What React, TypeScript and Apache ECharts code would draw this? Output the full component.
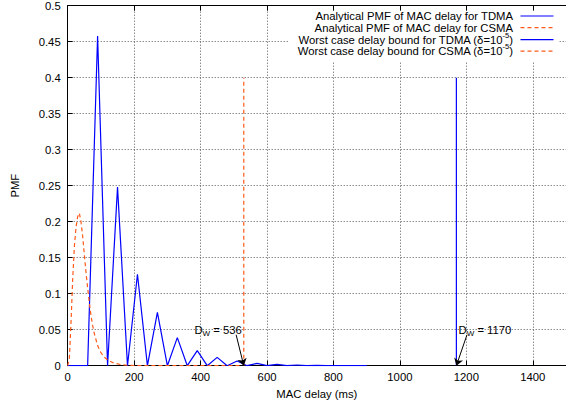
import React, { useEffect, useRef } from "react";
import * as echarts from "echarts";

// ---- data ----
const tdmaX = [0, 30, 60, 90, 120, 150, 180, 210, 240, 270, 300, 330, 360, 390, 420, 450, 480, 510, 540, 570, 600, 630, 660, 690, 720, 750, 780, 810, 840, 870, 900];
const tdmaY = [0, 0, 0, 0.458, 0, 0.248, 0, 0.127, 0, 0.074, 0, 0.039, 0, 0.021, 0, 0.0116, 0, 0.0065, 0, 0.0033, 0, 0.0018, 0, 0.001, 0, 0.0005, 0, 0.0003, 0, 0.0001, 0];

const csmaX = [0, 5, 10, 15, 20, 25, 30, 35, 40, 45, 50, 55, 60, 65, 70, 75, 80, 90, 100, 110, 120, 140, 160, 180, 200, 250, 300, 400, 520];
const csmaY = [0, 0.01, 0.06, 0.12, 0.165, 0.192, 0.207, 0.212, 0.2, 0.18, 0.155, 0.13, 0.108, 0.088, 0.07, 0.056, 0.045, 0.028, 0.018, 0.012, 0.008, 0.0035, 0.0015, 0.0006, 0.0002, 0, 0, 0, 0];

const tdmaBound = 1170;
const csmaBound = 530;
const boundHeight = 0.4;

const annotations = [
  { label: "536", textAt: [380, 0.05], arrowFrom: [507, 0.043], arrowTo: [530, 0] },
  { label: "1170", textAt: [1175, 0.05], arrowFrom: [1202, 0.043], arrowTo: [1170, 0] },
];

const legendNames = [
  "Analytical PMF of MAC delay for TDMA",
  "Analytical PMF of MAC delay for CSMA",
  "Worst case delay bound for TDMA (δ=10",
  "Worst case delay bound for CSMA (δ=10",
];

const xMin = 0;
const xMax = 1500;
const xInterval = 200;
const yMin = 0;
const yMax = 0.5;
const yInterval = 0.05;

const BLUE = "#0000ff";
const ORANGE = "#ff5a1a";
const FONT = "Liberation Sans";
const FS = 11.3;

export default function App() {
  const ref = useRef<HTMLDivElement>(null);

  useEffect(() => {
    if (!ref.current) return;
    const chart = echarts.init(ref.current, undefined, { renderer: "svg" });

    const tdmaData = tdmaX.map((x, i) => [x, tdmaY[i]]);
    const csmaData = csmaX.map((x, i) => [x, csmaY[i]]);

    const gridLeft = 67.7;
    const gridTop = 5.7;
    const gridW = 500;
    const gridH = 360;

    const legendStyles = [
      { color: BLUE, dash: null },
      { color: ORANGE, dash: [4, 3] },
      { color: BLUE, dash: null },
      { color: ORANGE, dash: [4, 3] },
    ];
    const rowY = [16, 27.7, 39.6, 51.2];

    const legendGraphics: any[] = [
      {
        type: "rect",
        shape: { x: 288, y: 9, width: 270, height: 52 },
        style: { fill: "#fff" },
        z: 1,
        silent: true,
      },
    ];
    legendNames.forEach((name, i) => {
      const hasSup = i >= 2;
      legendGraphics.push({
        type: "text",
        x: 513,
        y: rowY[i],
        z: 2,
        style: {
          text: hasSup ? `{n|${name}}{s|-5}{n|)}` : `{n|${name}}`,
          align: "right",
          verticalAlign: "middle",
          fill: "#000",
          font: `${FS}px "${FONT}"`,
          rich: {
            n: { fontSize: FS, fontFamily: FONT, lineHeight: 17, fill: "#000" },
            s: { fontSize: 7.5, fontFamily: FONT, lineHeight: 8, verticalAlign: "top", fill: "#000" },
          },
        },
      });
      legendGraphics.push({
        type: "line",
        z: 2,
        shape: { x1: 520.5, y1: rowY[i], x2: 553.5, y2: rowY[i] },
        style: { stroke: legendStyles[i].color, lineWidth: 1.2, lineDash: legendStyles[i].dash },
      });
    });

    const richLabel = {
      d: { fontSize: FS, fontFamily: FONT, color: "#000", lineHeight: 16 },
      w: { fontSize: 8, fontFamily: FONT, color: "#000", lineHeight: 8, verticalAlign: "bottom" },
    };

    chart.setOption({
      animation: false,
      backgroundColor: "#fff",
      textStyle: { fontFamily: FONT },
      grid: { left: gridLeft, top: gridTop, width: gridW, height: gridH, containLabel: false },
      xAxis: [
        {
          type: "value",
          min: xMin,
          max: xMax,
          interval: xInterval,
          name: "MAC delay (ms)",
          nameLocation: "middle",
          nameGap: 23,
          nameTextStyle: { fontSize: FS, color: "#000", fontFamily: FONT },
          axisLine: { show: true, onZero: false, lineStyle: { color: "#000", width: 1 } },
          axisTick: { show: true, inside: true, length: 5, lineStyle: { color: "#000" } },
          axisLabel: {
            margin: 6,
            fontSize: FS,
            color: "#000",
            fontFamily: FONT,
            showMaxLabel: false,
            formatter: (v: number) => String(v),
          },
          splitLine: { show: true, lineStyle: { color: "#555", type: [1, 2], width: 1 } },
          z: 0,
        },
        {
          type: "value",
          position: "top",
          min: xMin,
          max: xMax,
          interval: xInterval,
          axisLine: { show: true, onZero: false, lineStyle: { color: "#000", width: 1 } },
          axisTick: { show: true, inside: true, length: 5, lineStyle: { color: "#000" } },
          axisLabel: { show: false },
          splitLine: { show: false },
          z: 10,
        },
      ],
      yAxis: [
        {
          type: "value",
          min: yMin,
          max: yMax,
          interval: yInterval,
          name: "PMF",
          nameLocation: "middle",
          nameGap: 47,
          nameTextStyle: { fontSize: FS, color: "#000", fontFamily: FONT },
          axisLine: { show: true, onZero: false, lineStyle: { color: "#000", width: 1 } },
          axisTick: { show: true, inside: true, length: 5, lineStyle: { color: "#000" } },
          axisLabel: {
            margin: 7,
            fontSize: FS,
            color: "#000",
            fontFamily: FONT,
            formatter: (v: number) => String(Math.round(v * 100) / 100),
          },
          splitLine: { show: true, lineStyle: { color: "#555", type: [1, 2], width: 1 } },
          z: 0,
        },
      ],
      series: [
        {
          name: legendNames[0],
          type: "line",
          data: tdmaData,
          symbol: "none",
          lineStyle: { color: BLUE, width: 1.2 },
          z: 3,
          markPoint: {
            silent: true,
            symbol: "rect",
            symbolSize: 1,
            itemStyle: { color: "transparent" },
            label: {
              show: true,
              position: "right",
              distance: 0,
              rich: richLabel,
            },
            data: annotations.map((a) => ({
              coord: a.textAt,
              label: { formatter: `{d|D}{w|W}{d| = ${a.label}}` },
            })),
          },
        },
        {
          name: legendNames[1],
          type: "line",
          data: csmaData,
          symbol: "none",
          lineStyle: { color: ORANGE, width: 1.2, type: [4, 3] },
          z: 3,
        },
        {
          name: legendNames[2],
          type: "line",
          data: [[tdmaBound, 0], [tdmaBound, boundHeight]],
          symbol: "none",
          lineStyle: { color: BLUE, width: 1.2 },
          z: 3,
        },
        {
          name: legendNames[3],
          type: "line",
          data: [[csmaBound, 0], [csmaBound, boundHeight]],
          symbol: "none",
          lineStyle: { color: ORANGE, width: 1.2, type: [4, 3] },
          z: 3,
        },
        {
          name: "arrows",
          type: "lines",
          coordinateSystem: "cartesian2d",
          xAxisIndex: 0,
          yAxisIndex: 0,
          silent: true,
          symbol: ["none", "arrow"],
          symbolSize: 7,
          lineStyle: { color: "#000", width: 1, opacity: 1, curveness: 0 },
          data: annotations.map((a) => ({ coords: [a.arrowFrom, a.arrowTo] })),
          z: 5,
        },
      ],
      graphic: legendGraphics,
    });

    return () => chart.dispose();
  }, []);

  return (
    <div
      ref={ref}
      style={{ position: "fixed", left: 0, top: 0, width: 566, height: 409, background: "#fff" }}
    />
  );
}
